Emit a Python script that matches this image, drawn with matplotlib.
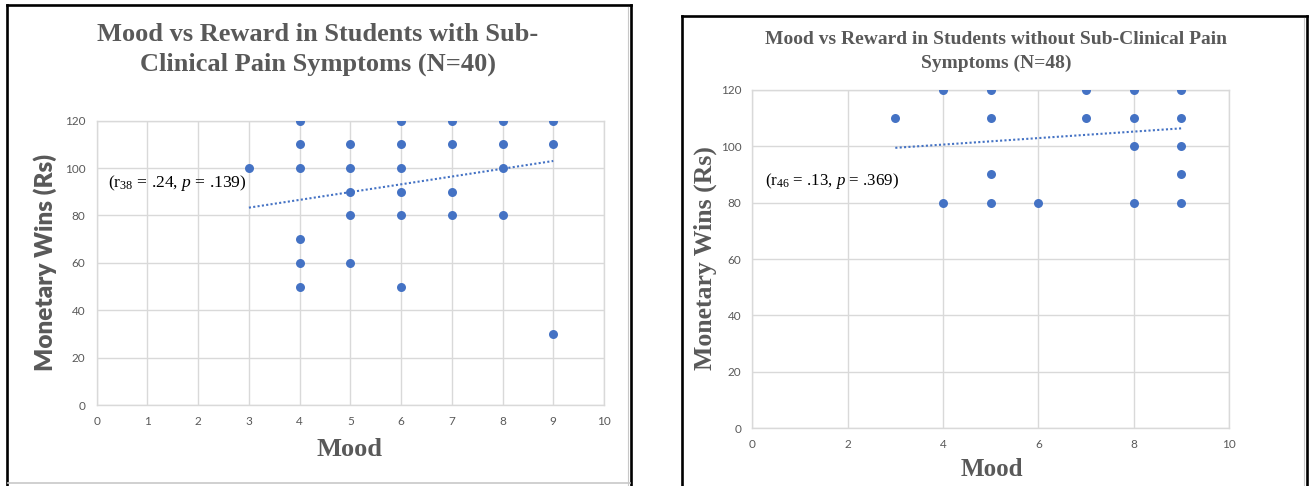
import matplotlib
matplotlib.use("Agg")
import matplotlib.pyplot as plt
from matplotlib.lines import Line2D

# ---------------- data ----------------
mood_with = [3, 4, 4, 4, 4, 4, 4, 5, 5, 5, 5, 5, 6, 6, 6, 6, 6, 6, 7, 7, 7, 7, 8, 8, 8, 8, 9, 9, 9]
wins_with = [100, 120, 110, 100, 70, 60, 50, 110, 100, 90, 80, 60, 120, 110, 100, 90, 80, 50,
             120, 110, 90, 80, 120, 110, 100, 80, 120, 110, 30]
trend_x_with = [3, 9]
trend_y_with = [83.3, 103.0]

mood_without = [3, 4, 4, 5, 5, 5, 5, 6, 7, 7, 8, 8, 8, 8, 9, 9, 9, 9, 9]
wins_without = [110, 120, 80, 120, 110, 90, 80, 80, 120, 110, 120, 110, 100, 80, 120, 110, 100, 90, 80]
trend_x_without = [3, 9]
trend_y_without = [99.4, 106.3]

title_with = "Mood vs Reward in Students with Sub-\nClinical Pain Symptoms (N=40)"
title_without = "Mood vs Reward in Students without Sub-Clinical Pain\nSymptoms (N=48)"
stat_with = r"(r$_{38}$ = .24, $p$ = .139)"
stat_without = r"(r$_{46}$ = .13, $p$ = .369)"
x_label = "Mood"
y_label = "Monetary Wins (Rs)"
xticks_with = list(range(0, 11, 1))
xticks_without = list(range(0, 11, 2))
yticks = list(range(0, 121, 20))

# ---------------- style ----------------
plt.rcParams['mathtext.fontset'] = 'custom'
plt.rcParams['mathtext.rm'] = 'Liberation Serif'
plt.rcParams['mathtext.it'] = 'Liberation Serif:italic'
plt.rcParams['mathtext.bf'] = 'Liberation Serif:bold'

BLUE = "#4472C4"
GRAY_TXT = "#595959"
GRID = "#D9D9D9"
W, H = 1314, 486

fig = plt.figure(figsize=(W / 100, H / 100), dpi=100)


def fx(px):
    return px / W


def fy(py):
    return 1 - py / H


def frame(x0, y0, x1, y1, bottom_gray=None):
    lw = 1.9
    fig.add_artist(Line2D([fx(x0), fx(x0)], [fy(y0), fy(y1)], color="black", lw=lw, transform=fig.transFigure))
    fig.add_artist(Line2D([fx(x0), fx(x1)], [fy(y0), fy(y0)], color="black", lw=lw, transform=fig.transFigure))
    fig.add_artist(Line2D([fx(x1), fx(x1)], [fy(y0), fy(y1)], color="black", lw=lw, transform=fig.transFigure))
    fig.add_artist(Line2D([fx(x1 - 3), fx(x1 - 3)], [fy(y0 + 2), fy(y1)], color="#C8C8C8", lw=0.8,
                          transform=fig.transFigure))
    if bottom_gray is not None:
        fig.add_artist(Line2D([fx(x0 + 1), fx(x1 - 1)], [fy(bottom_gray), fy(bottom_gray)], color="#C8C8C8",
                              lw=1.2, transform=fig.transFigure))


frame(6.5, 5.5, 631, 490, bottom_gray=483)
frame(682, 16.5, 1307, 490)


def setup(ax, xticks, tick_size):
    ax.set_xlim(0, 10)
    ax.set_ylim(0, 120)
    ax.set_xticks(xticks)
    ax.set_yticks(yticks)
    ax.grid(True, color=GRID, lw=1.0)
    ax.set_axisbelow(True)
    for s in ax.spines.values():
        s.set_color(GRID)
        s.set_linewidth(1.0)
    ax.tick_params(length=0, labelsize=tick_size, labelcolor=GRAY_TXT, pad=8)
    for lab in ax.get_xticklabels() + ax.get_yticklabels():
        lab.set_fontfamily("Lato")


# ---------------- left panel ----------------
ax1 = fig.add_axes([fx(96.7), fy(405), (604 - 96.7) / W, (405 - 120.7) / H])
setup(ax1, xticks_with, 8.5)
ax1.scatter(mood_with, wins_with, s=42, color=BLUE, zorder=3, linewidths=0)
ax1.plot(trend_x_with, trend_y_with, color=BLUE, lw=1.5, ls=(0, (1, 1.1)), zorder=2)
ax1.text(0.22, 93.6, stat_with, fontsize=12.6, family="Liberation Serif", color="black", ha="left", va="center")
ax1.set_xlabel(x_label, family="Liberation Serif", fontweight="bold", fontsize=19, color=GRAY_TXT, va="center")
ax1.xaxis.set_label_coords(0.4993, -0.158)
ax1.set_ylabel(y_label, family="Lato", fontweight="heavy", fontsize=17.5, color=GRAY_TXT, va="center")
ax1.yaxis.set_label_coords(-0.102, 0.5)
fig.text(fx(318), fy(49.5), title_with, family="Liberation Serif", fontweight="bold", fontsize=19,
         color=GRAY_TXT, ha="center", va="center", multialignment="center", linespacing=1.4)

# ---------------- right panel ----------------
ax2 = fig.add_axes([fx(752.3), fy(428.3), (1229 - 752.3) / W, (428.3 - 89.7) / H])
setup(ax2, xticks_without, 8.5)
ax2.scatter(mood_without, wins_without, s=42, color=BLUE, zorder=3, linewidths=0)
ax2.plot(trend_x_without, trend_y_without, color=BLUE, lw=1.5, ls=(0, (1, 1.1)), zorder=2)
ax2.text(0.27, 87.6, stat_without, fontsize=12.2, family="Liberation Serif", color="black", ha="left", va="center")
ax2.set_xlabel(x_label, family="Liberation Serif", fontweight="bold", fontsize=18, color=GRAY_TXT, va="center")
ax2.xaxis.set_label_coords(0.503, -0.123)
ax2.set_ylabel(y_label, family="Liberation Serif", fontweight="bold", fontsize=18.5, color=GRAY_TXT, va="center")
ax2.yaxis.set_label_coords(-0.099, 0.503)
fig.text(fx(996), fy(51.5), title_without, family="Liberation Serif", fontweight="bold", fontsize=14,
         color=GRAY_TXT, ha="center", va="center", multialignment="center", linespacing=1.45)

fig.savefig("out.png", dpi=100)
